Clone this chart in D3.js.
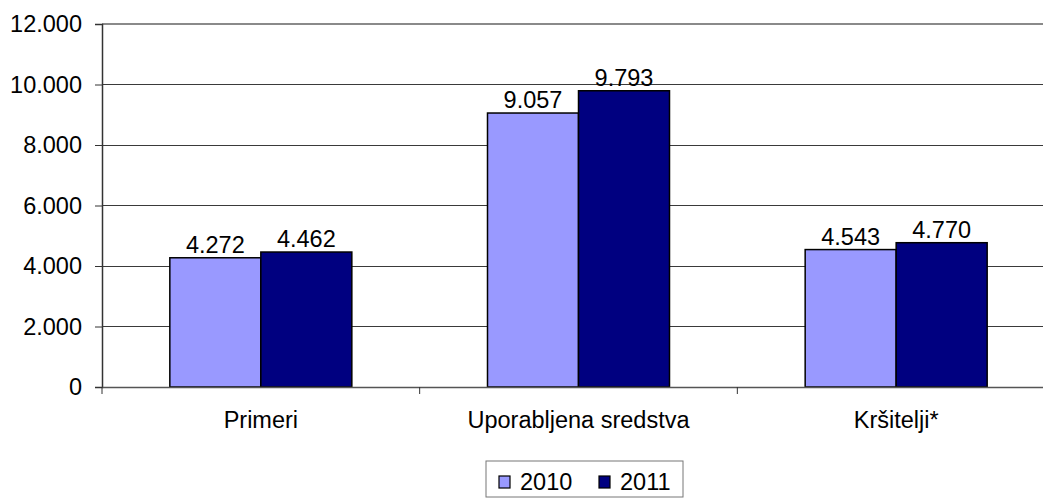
<!DOCTYPE html>
<html><head><meta charset="utf-8">
<script src="https://cdn.jsdelivr.net/npm/d3@7"></script>
<style>body{margin:0;background:#fff}svg{display:block}text{font-family:Arial,"Liberation Sans",sans-serif;fill:#000}</style>
</head><body><svg id="c" width="1043" height="498"></svg>
<script>
const categories = ["Primeri", "Uporabljena sredstva", "Kršitelji*"];
const seriesNames = ["2010", "2011"];
const values2010 = [4272, 9057, 4543];
const values2011 = [4462, 9793, 4770];
const yTicks = [0, 2000, 4000, 6000, 8000, 10000, 12000];
const colors = ["#9999FF", "#000080"];

(function () {
const svg = d3.select("#c");
const pL = 102, pR = 1055, pT = 24, pB = 387;
const fs = 23.5;
const x = d3.scaleBand().domain(categories).range([pL, pR]).paddingInner(0).paddingOuter(0);
const y = d3.scaleLinear().domain([0, 12000]).range([pB, pT]);
const fmt = v => d3.format(",")(v).replace(/,/g, ".");
const data = seriesNames.map((s, i) => ({name: s, values: i === 0 ? values2010 : values2011, color: colors[i]}));

// gridlines
svg.append("g").selectAll("line").data(yTicks.filter(t => t > 0)).join("line")
  .attr("x1", pL).attr("x2", pR).attr("y1", d => y(d)).attr("y2", d => y(d))
  .attr("stroke", d => d === 12000 ? "#8a8a8a" : "#3a3a3a").attr("stroke-width", d => d === 12000 ? 2 : 1)
  .attr("shape-rendering", "crispEdges");

// bars
const bw = 91;
const gap = (x.bandwidth() - 2 * bw) / 2;
data.forEach((s, si) => {
  svg.append("g").selectAll("rect").data(s.values).join("rect")
    .attr("x", (d, i) => x(categories[i]) + gap + si * bw)
    .attr("y", d => y(d)).attr("width", bw).attr("height", d => y(0) - y(d))
    .attr("fill", s.color).attr("stroke", "#000").attr("stroke-width", 1.5);
  svg.append("g").selectAll("text").data(s.values).join("text")
    .attr("x", (d, i) => x(categories[i]) + gap + si * bw + bw / 2)
    .attr("y", d => y(d) - 5).attr("text-anchor", "middle").attr("font-size", fs)
    .text(d => fmt(d));
});

// y axis
const ya = svg.append("g").attr("transform", `translate(${pL},0)`)
  .call(d3.axisLeft(y).tickValues(yTicks).tickFormat(fmt).tickSize(7).tickPadding(13));
ya.select(".domain").attr("stroke", "#333").attr("stroke-width", 1.5);
ya.selectAll(".tick line").attr("stroke", "#333");
ya.selectAll("text").attr("font-size", fs).attr("font-family", "Arial, 'Liberation Sans', sans-serif").attr("fill", "#000");

// x axis
const xa = svg.append("g").attr("transform", `translate(0,${pB})`)
  .call(d3.axisBottom(x).tickSize(0).tickPadding(34));
xa.select(".domain").attr("stroke", "#555").attr("stroke-width", 1.5);
xa.selectAll("text").attr("font-size", fs).attr("font-family", "Arial, 'Liberation Sans', sans-serif").attr("fill", "#000").attr("dy", "0");
xa.selectAll(".tick text").attr("y", 41);
svg.append("g").selectAll("line").data(categories).join("line")
  .attr("x1", d => x(d)).attr("x2", d => x(d)).attr("y1", pB).attr("y2", pB + 7)
  .attr("stroke", "#333").attr("stroke-width", 1);

// legend
const lg = svg.append("g");
lg.append("rect").attr("x", 486).attr("y", 461).attr("width", 197).attr("height", 36)
  .attr("fill", "#fff").attr("stroke", "#777").attr("stroke-width", 1);
const lx = [499, 599];
data.forEach((s, i) => {
  lg.append("rect").attr("x", lx[i]).attr("y", 476).attr("width", 11).attr("height", 12)
    .attr("fill", s.color).attr("stroke", "#000").attr("stroke-width", 1.2);
  lg.append("text").attr("x", lx[i] + 21).attr("y", 490).attr("font-size", fs).text(s.name);
});
})();
</script></body></html>
